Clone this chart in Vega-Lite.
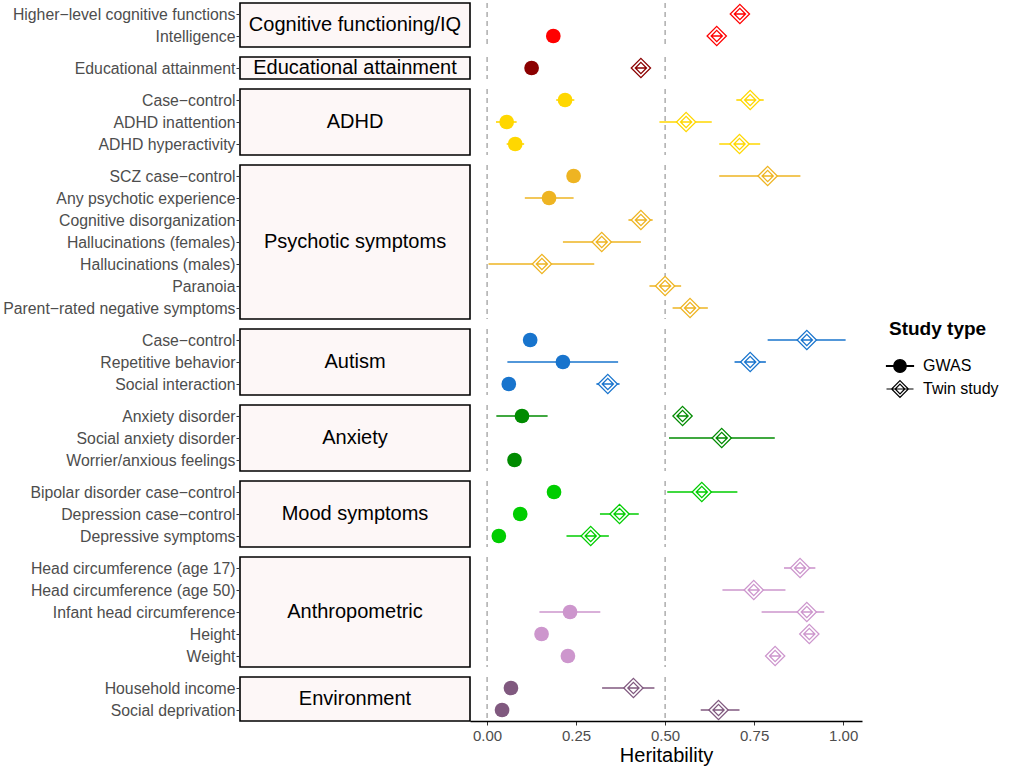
{
  "$schema": "https://vega.github.io/schema/vega-lite/v6.json",
  "padding": {"left": 1, "top": 1, "right": 2, "bottom": 2},
  "autosize": {"type": "pad"},
  "background": "white",
  "config": {
    "font": "Liberation Sans",
    "view": {"stroke": null},
    "axisY": {"grid": false, "domain": false, "ticks": true, "tickSize": 4, "tickColor": "#333333", "tickWidth": 1, "labelFontSize": 15.8, "labelColor": "#4D4D4D", "labelPadding": 1, "labelLimit": 400, "labelFont": "Liberation Sans"},
    "axisX": {"grid": false, "domain": true, "domainColor": "black", "domainWidth": 1.3, "ticks": true, "tickSize": 4, "tickColor": "#333333", "tickWidth": 1, "labelFontSize": 15, "labelColor": "#4D4D4D", "labelPadding": 3, "labelFont": "Liberation Sans", "titleFontSize": 20, "titleColor": "black", "titleFontWeight": "normal", "titleFont": "Liberation Sans", "titlePadding": 2},
    "legend": {"titleFontSize": 19, "titleFontWeight": "bold", "titleColor": "black", "titleFont": "Liberation Sans", "labelFontSize": 16, "labelColor": "black", "labelFont": "Liberation Sans", "symbolSize": 400, "symbolStrokeWidth": 1.2, "symbolStrokeColor": "black", "symbolOpacity": 1, "rowPadding": 3, "titlePadding": 16, "labelOffset": 12, "padding": 0}
  },
  "datasets": {
    "items": [
      {"group": "Cognitive functioning/IQ", "item": "Higher−level cognitive functions", "study": "Twin study", "est": 0.71, "lo": 0.70, "hi": 0.72},
      {"group": "Cognitive functioning/IQ", "item": "Intelligence", "study": "GWAS", "est": 0.186, "lo": null, "hi": null},
      {"group": "Cognitive functioning/IQ", "item": "Intelligence", "study": "Twin study", "est": 0.645, "lo": 0.635, "hi": 0.655},
      {"group": "Educational attainment", "item": "Educational attainment", "study": "GWAS", "est": 0.125, "lo": null, "hi": null},
      {"group": "Educational attainment", "item": "Educational attainment", "study": "Twin study", "est": 0.432, "lo": 0.422, "hi": 0.442},
      {"group": "ADHD", "item": "Case−control", "study": "GWAS", "est": 0.219, "lo": 0.194, "hi": 0.245},
      {"group": "ADHD", "item": "Case−control", "study": "Twin study", "est": 0.739, "lo": 0.70, "hi": 0.777},
      {"group": "ADHD", "item": "ADHD inattention", "study": "GWAS", "est": 0.055, "lo": 0.025, "hi": 0.083},
      {"group": "ADHD", "item": "ADHD inattention", "study": "Twin study", "est": 0.559, "lo": 0.484, "hi": 0.631},
      {"group": "ADHD", "item": "ADHD hyperactivity", "study": "GWAS", "est": 0.079, "lo": 0.055, "hi": 0.104},
      {"group": "ADHD", "item": "ADHD hyperactivity", "study": "Twin study", "est": 0.709, "lo": 0.652, "hi": 0.767},
      {"group": "Psychotic symptoms", "item": "SCZ case−control", "study": "GWAS", "est": 0.243, "lo": null, "hi": null},
      {"group": "Psychotic symptoms", "item": "SCZ case−control", "study": "Twin study", "est": 0.788, "lo": 0.652, "hi": 0.880},
      {"group": "Psychotic symptoms", "item": "Any psychotic experience", "study": "GWAS", "est": 0.174, "lo": 0.106, "hi": 0.243},
      {"group": "Psychotic symptoms", "item": "Cognitive disorganization", "study": "Twin study", "est": 0.432, "lo": 0.397, "hi": 0.465},
      {"group": "Psychotic symptoms", "item": "Hallucinations (females)", "study": "Twin study", "est": 0.322, "lo": 0.213, "hi": 0.432},
      {"group": "Psychotic symptoms", "item": "Hallucinations (males)", "study": "Twin study", "est": 0.154, "lo": 0.004, "hi": 0.301},
      {"group": "Psychotic symptoms", "item": "Paranoia", "study": "Twin study", "est": 0.500, "lo": 0.456, "hi": 0.545},
      {"group": "Psychotic symptoms", "item": "Parent−rated negative symptoms", "study": "Twin study", "est": 0.570, "lo": 0.521, "hi": 0.620},
      {"group": "Autism", "item": "Case−control", "study": "GWAS", "est": 0.121, "lo": null, "hi": null},
      {"group": "Autism", "item": "Case−control", "study": "Twin study", "est": 0.898, "lo": 0.788, "hi": 1.007},
      {"group": "Autism", "item": "Repetitive behavior", "study": "GWAS", "est": 0.213, "lo": 0.057, "hi": 0.368},
      {"group": "Autism", "item": "Repetitive behavior", "study": "Twin study", "est": 0.739, "lo": 0.695, "hi": 0.783},
      {"group": "Autism", "item": "Social interaction", "study": "GWAS", "est": 0.061, "lo": null, "hi": null},
      {"group": "Autism", "item": "Social interaction", "study": "Twin study", "est": 0.339, "lo": 0.307, "hi": 0.372},
      {"group": "Anxiety", "item": "Anxiety disorder", "study": "GWAS", "est": 0.098, "lo": 0.026, "hi": 0.170},
      {"group": "Anxiety", "item": "Anxiety disorder", "study": "Twin study", "est": 0.549, "lo": 0.539, "hi": 0.559},
      {"group": "Anxiety", "item": "Social anxiety disorder", "study": "Twin study", "est": 0.659, "lo": 0.511, "hi": 0.808},
      {"group": "Anxiety", "item": "Worrier/anxious feelings", "study": "GWAS", "est": 0.077, "lo": null, "hi": null},
      {"group": "Mood symptoms", "item": "Bipolar disorder case−control", "study": "GWAS", "est": 0.188, "lo": null, "hi": null},
      {"group": "Mood symptoms", "item": "Bipolar disorder case−control", "study": "Twin study", "est": 0.603, "lo": 0.506, "hi": 0.703},
      {"group": "Mood symptoms", "item": "Depression case−control", "study": "GWAS", "est": 0.093, "lo": null, "hi": null},
      {"group": "Mood symptoms", "item": "Depression case−control", "study": "Twin study", "est": 0.372, "lo": 0.317, "hi": 0.426},
      {"group": "Mood symptoms", "item": "Depressive symptoms", "study": "GWAS", "est": 0.033, "lo": null, "hi": null},
      {"group": "Mood symptoms", "item": "Depressive symptoms", "study": "Twin study", "est": 0.291, "lo": 0.223, "hi": 0.342},
      {"group": "Anthropometric", "item": "Head circumference (age 17)", "study": "Twin study", "est": 0.879, "lo": 0.834, "hi": 0.922},
      {"group": "Anthropometric", "item": "Head circumference (age 50)", "study": "Twin study", "est": 0.749, "lo": 0.661, "hi": 0.838},
      {"group": "Anthropometric", "item": "Infant head circumference", "study": "GWAS", "est": 0.233, "lo": 0.147, "hi": 0.318},
      {"group": "Anthropometric", "item": "Infant head circumference", "study": "Twin study", "est": 0.898, "lo": 0.771, "hi": 0.947},
      {"group": "Anthropometric", "item": "Height", "study": "GWAS", "est": 0.153, "lo": null, "hi": null},
      {"group": "Anthropometric", "item": "Height", "study": "Twin study", "est": 0.905, "lo": 0.895, "hi": 0.915},
      {"group": "Anthropometric", "item": "Weight", "study": "GWAS", "est": 0.227, "lo": null, "hi": null},
      {"group": "Anthropometric", "item": "Weight", "study": "Twin study", "est": 0.809, "lo": 0.799, "hi": 0.819},
      {"group": "Environment", "item": "Household income", "study": "GWAS", "est": 0.067, "lo": null, "hi": null},
      {"group": "Environment", "item": "Household income", "study": "Twin study", "est": 0.411, "lo": 0.323, "hi": 0.470},
      {"group": "Environment", "item": "Social deprivation", "study": "GWAS", "est": 0.042, "lo": null, "hi": null},
      {"group": "Environment", "item": "Social deprivation", "study": "Twin study", "est": 0.650, "lo": 0.600, "hi": 0.709}
    ],
    "refs": [{"v": 0}, {"v": 0.5}]
  },
  "data": {"name": "items"},
  "columns": 2,
  "spacing": {"row": 10, "column": 0},
  "bounds": "flush",
  "align": "each",
  "concat": [
    {"width": 230, "height": 44, "view": {"fill": "#FDF7F7", "stroke": "black", "strokeWidth": 1.6},
     "transform": [{"filter": {"field": "group", "equal": "Cognitive functioning/IQ"}}],
     "layer": [
      {"mark": {"type": "point", "opacity": 0}, "encoding": {"y": {"field": "item", "type": "nominal", "sort": null, "scale": {"type": "point", "padding": 0.5}, "axis": {"title": null}}}},
      {"transform": [{"aggregate": [{"op": "count", "as": "n"}], "groupby": ["group"]}], "mark": {"type": "text", "fontSize": 20, "color": "black"}, "encoding": {"text": {"field": "group", "type": "nominal"}}}
     ]},
    {"width": 392, "height": 44,
     "transform": [{"filter": {"field": "group", "equal": "Cognitive functioning/IQ"}}],
     "layer": [
      {"data": {"name": "refs"}, "mark": {"type": "rule", "strokeDash": [5, 4], "color": "#999999", "strokeWidth": 1.2}, "encoding": {"x": {"field": "v", "type": "quantitative", "scale": {"domain": [-0.048, 1.053], "nice": false, "zero": false}, "axis": null}}},
      {"transform": [{"filter": "isValid(datum.lo)"}], "mark": {"type": "rule", "strokeWidth": 1.6}, "encoding": {"x": {"field": "lo", "type": "quantitative", "axis": null}, "x2": {"field": "hi"}, "y": {"field": "item", "type": "nominal", "sort": null, "scale": {"type": "point", "padding": 0.5}, "axis": null}, "color": {"field": "group", "type": "nominal", "legend": null, "scale": {"domain": ["Cognitive functioning/IQ", "Educational attainment", "ADHD", "Psychotic symptoms", "Autism", "Anxiety", "Mood symptoms", "Anthropometric", "Environment"], "range": ["#FF0000", "#8B0000", "#FFD700", "#EEB422", "#1874CD", "#008B00", "#00CD00", "#CD96CD", "#80597F"]}}}},
      {"mark": {"type": "point", "filled": true, "opacity": 0, "size": 10}, "encoding": {"x": {"field": "est", "type": "quantitative", "axis": null}, "y": {"field": "item", "type": "nominal", "sort": null, "axis": null}, "shape": {"field": "study", "type": "nominal", "title": "Study type", "scale": {"domain": ["GWAS", "Twin study"], "range": ["M0.63,0A0.63,0.63 0 1,1 -0.63,0A0.63,0.63 0 1,1 0.63,0Z M-1.35,-0.04H1.35V0.04H-1.35Z", "M0,-0.84L0.84,0L0,0.84L-0.84,0Z M0,-0.48L0.48,0L0,0.48L-0.48,0Z M-1.35,0H1.35"]}, "legend": {"orient": "none", "legendX": 649, "legendY": 317}}, "fill": {"field": "study", "type": "nominal", "title": "Study type", "scale": {"domain": ["GWAS", "Twin study"], "range": ["black", "white"]}, "legend": {"orient": "none", "legendX": 649, "legendY": 317}}, "stroke": {"field": "study", "type": "nominal", "title": "Study type", "scale": {"domain": ["GWAS", "Twin study"], "range": ["black", "black"]}, "legend": {"orient": "none", "legendX": 649, "legendY": 317}}}},
      {"transform": [{"filter": "datum.study === 'GWAS'"}], "mark": {"type": "point", "filled": true, "size": 216, "opacity": 1, "shape": "circle"}, "encoding": {"x": {"field": "est", "type": "quantitative", "axis": null}, "y": {"field": "item", "type": "nominal", "sort": null, "axis": null}, "color": {"field": "group", "type": "nominal", "legend": null}}},
      {"transform": [{"filter": "datum.study === 'Twin study'"}], "mark": {"type": "point", "filled": false, "fill": "white", "strokeWidth": 1.3, "size": 372, "opacity": 1, "shape": "M0,-1L1,0L0,1L-1,0Z M0,-0.58L0.58,0L0,0.58L-0.58,0Z M-0.58,0L0.58,0"}, "encoding": {"x": {"field": "est", "type": "quantitative", "axis": null}, "y": {"field": "item", "type": "nominal", "sort": null, "axis": null}, "color": {"field": "group", "type": "nominal", "legend": null}}}
     ]},

    {"width": 230, "height": 22, "view": {"fill": "#FDF7F7", "stroke": "black", "strokeWidth": 1.6},
     "transform": [{"filter": {"field": "group", "equal": "Educational attainment"}}],
     "layer": [
      {"mark": {"type": "point", "opacity": 0}, "encoding": {"y": {"field": "item", "type": "nominal", "sort": null, "scale": {"type": "point", "padding": 0.5}, "axis": {"title": null}}}},
      {"transform": [{"aggregate": [{"op": "count", "as": "n"}], "groupby": ["group"]}], "mark": {"type": "text", "fontSize": 20, "color": "black"}, "encoding": {"text": {"field": "group", "type": "nominal"}}}
     ]},
    {"width": 392, "height": 22,
     "transform": [{"filter": {"field": "group", "equal": "Educational attainment"}}],
     "layer": [
      {"data": {"name": "refs"}, "mark": {"type": "rule", "strokeDash": [5, 4], "color": "#999999", "strokeWidth": 1.2}, "encoding": {"x": {"field": "v", "type": "quantitative", "scale": {"domain": [-0.048, 1.053], "nice": false, "zero": false}, "axis": null}}},
      {"transform": [{"filter": "isValid(datum.lo)"}], "mark": {"type": "rule", "strokeWidth": 1.6}, "encoding": {"x": {"field": "lo", "type": "quantitative", "axis": null}, "x2": {"field": "hi"}, "y": {"field": "item", "type": "nominal", "sort": null, "scale": {"type": "point", "padding": 0.5}, "axis": null}, "color": {"field": "group", "type": "nominal", "legend": null}}},
      {"transform": [{"filter": "datum.study === 'GWAS'"}], "mark": {"type": "point", "filled": true, "size": 216, "opacity": 1, "shape": "circle"}, "encoding": {"x": {"field": "est", "type": "quantitative", "axis": null}, "y": {"field": "item", "type": "nominal", "sort": null, "axis": null}, "color": {"field": "group", "type": "nominal", "legend": null}}},
      {"transform": [{"filter": "datum.study === 'Twin study'"}], "mark": {"type": "point", "filled": false, "fill": "white", "strokeWidth": 1.3, "size": 372, "opacity": 1, "shape": "M0,-1L1,0L0,1L-1,0Z M0,-0.58L0.58,0L0,0.58L-0.58,0Z M-0.58,0L0.58,0"}, "encoding": {"x": {"field": "est", "type": "quantitative", "axis": null}, "y": {"field": "item", "type": "nominal", "sort": null, "axis": null}, "color": {"field": "group", "type": "nominal", "legend": null}}}
     ]},

    {"width": 230, "height": 66, "view": {"fill": "#FDF7F7", "stroke": "black", "strokeWidth": 1.6},
     "transform": [{"filter": {"field": "group", "equal": "ADHD"}}],
     "layer": [
      {"mark": {"type": "point", "opacity": 0}, "encoding": {"y": {"field": "item", "type": "nominal", "sort": null, "scale": {"type": "point", "padding": 0.5}, "axis": {"title": null}}}},
      {"transform": [{"aggregate": [{"op": "count", "as": "n"}], "groupby": ["group"]}], "mark": {"type": "text", "fontSize": 20, "color": "black"}, "encoding": {"text": {"field": "group", "type": "nominal"}}}
     ]},
    {"width": 392, "height": 66,
     "transform": [{"filter": {"field": "group", "equal": "ADHD"}}],
     "layer": [
      {"data": {"name": "refs"}, "mark": {"type": "rule", "strokeDash": [5, 4], "color": "#999999", "strokeWidth": 1.2}, "encoding": {"x": {"field": "v", "type": "quantitative", "scale": {"domain": [-0.048, 1.053], "nice": false, "zero": false}, "axis": null}}},
      {"transform": [{"filter": "isValid(datum.lo)"}], "mark": {"type": "rule", "strokeWidth": 1.6}, "encoding": {"x": {"field": "lo", "type": "quantitative", "axis": null}, "x2": {"field": "hi"}, "y": {"field": "item", "type": "nominal", "sort": null, "scale": {"type": "point", "padding": 0.5}, "axis": null}, "color": {"field": "group", "type": "nominal", "legend": null}}},
      {"transform": [{"filter": "datum.study === 'GWAS'"}], "mark": {"type": "point", "filled": true, "size": 216, "opacity": 1, "shape": "circle"}, "encoding": {"x": {"field": "est", "type": "quantitative", "axis": null}, "y": {"field": "item", "type": "nominal", "sort": null, "axis": null}, "color": {"field": "group", "type": "nominal", "legend": null}}},
      {"transform": [{"filter": "datum.study === 'Twin study'"}], "mark": {"type": "point", "filled": false, "fill": "white", "strokeWidth": 1.3, "size": 372, "opacity": 1, "shape": "M0,-1L1,0L0,1L-1,0Z M0,-0.58L0.58,0L0,0.58L-0.58,0Z M-0.58,0L0.58,0"}, "encoding": {"x": {"field": "est", "type": "quantitative", "axis": null}, "y": {"field": "item", "type": "nominal", "sort": null, "axis": null}, "color": {"field": "group", "type": "nominal", "legend": null}}}
     ]},

    {"width": 230, "height": 154, "view": {"fill": "#FDF7F7", "stroke": "black", "strokeWidth": 1.6},
     "transform": [{"filter": {"field": "group", "equal": "Psychotic symptoms"}}],
     "layer": [
      {"mark": {"type": "point", "opacity": 0}, "encoding": {"y": {"field": "item", "type": "nominal", "sort": null, "scale": {"type": "point", "padding": 0.5}, "axis": {"title": null}}}},
      {"transform": [{"aggregate": [{"op": "count", "as": "n"}], "groupby": ["group"]}], "mark": {"type": "text", "fontSize": 20, "color": "black"}, "encoding": {"text": {"field": "group", "type": "nominal"}}}
     ]},
    {"width": 392, "height": 154,
     "transform": [{"filter": {"field": "group", "equal": "Psychotic symptoms"}}],
     "layer": [
      {"data": {"name": "refs"}, "mark": {"type": "rule", "strokeDash": [5, 4], "color": "#999999", "strokeWidth": 1.2}, "encoding": {"x": {"field": "v", "type": "quantitative", "scale": {"domain": [-0.048, 1.053], "nice": false, "zero": false}, "axis": null}}},
      {"transform": [{"filter": "isValid(datum.lo)"}], "mark": {"type": "rule", "strokeWidth": 1.6}, "encoding": {"x": {"field": "lo", "type": "quantitative", "axis": null}, "x2": {"field": "hi"}, "y": {"field": "item", "type": "nominal", "sort": null, "scale": {"type": "point", "padding": 0.5}, "axis": null}, "color": {"field": "group", "type": "nominal", "legend": null}}},
      {"transform": [{"filter": "datum.study === 'GWAS'"}], "mark": {"type": "point", "filled": true, "size": 216, "opacity": 1, "shape": "circle"}, "encoding": {"x": {"field": "est", "type": "quantitative", "axis": null}, "y": {"field": "item", "type": "nominal", "sort": null, "axis": null}, "color": {"field": "group", "type": "nominal", "legend": null}}},
      {"transform": [{"filter": "datum.study === 'Twin study'"}], "mark": {"type": "point", "filled": false, "fill": "white", "strokeWidth": 1.3, "size": 372, "opacity": 1, "shape": "M0,-1L1,0L0,1L-1,0Z M0,-0.58L0.58,0L0,0.58L-0.58,0Z M-0.58,0L0.58,0"}, "encoding": {"x": {"field": "est", "type": "quantitative", "axis": null}, "y": {"field": "item", "type": "nominal", "sort": null, "axis": null}, "color": {"field": "group", "type": "nominal", "legend": null}}}
     ]},

    {"width": 230, "height": 66, "view": {"fill": "#FDF7F7", "stroke": "black", "strokeWidth": 1.6},
     "transform": [{"filter": {"field": "group", "equal": "Autism"}}],
     "layer": [
      {"mark": {"type": "point", "opacity": 0}, "encoding": {"y": {"field": "item", "type": "nominal", "sort": null, "scale": {"type": "point", "padding": 0.5}, "axis": {"title": null}}}},
      {"transform": [{"aggregate": [{"op": "count", "as": "n"}], "groupby": ["group"]}], "mark": {"type": "text", "fontSize": 20, "color": "black"}, "encoding": {"text": {"field": "group", "type": "nominal"}}}
     ]},
    {"width": 392, "height": 66,
     "transform": [{"filter": {"field": "group", "equal": "Autism"}}],
     "layer": [
      {"data": {"name": "refs"}, "mark": {"type": "rule", "strokeDash": [5, 4], "color": "#999999", "strokeWidth": 1.2}, "encoding": {"x": {"field": "v", "type": "quantitative", "scale": {"domain": [-0.048, 1.053], "nice": false, "zero": false}, "axis": null}}},
      {"transform": [{"filter": "isValid(datum.lo)"}], "mark": {"type": "rule", "strokeWidth": 1.6}, "encoding": {"x": {"field": "lo", "type": "quantitative", "axis": null}, "x2": {"field": "hi"}, "y": {"field": "item", "type": "nominal", "sort": null, "scale": {"type": "point", "padding": 0.5}, "axis": null}, "color": {"field": "group", "type": "nominal", "legend": null}}},
      {"transform": [{"filter": "datum.study === 'GWAS'"}], "mark": {"type": "point", "filled": true, "size": 216, "opacity": 1, "shape": "circle"}, "encoding": {"x": {"field": "est", "type": "quantitative", "axis": null}, "y": {"field": "item", "type": "nominal", "sort": null, "axis": null}, "color": {"field": "group", "type": "nominal", "legend": null}}},
      {"transform": [{"filter": "datum.study === 'Twin study'"}], "mark": {"type": "point", "filled": false, "fill": "white", "strokeWidth": 1.3, "size": 372, "opacity": 1, "shape": "M0,-1L1,0L0,1L-1,0Z M0,-0.58L0.58,0L0,0.58L-0.58,0Z M-0.58,0L0.58,0"}, "encoding": {"x": {"field": "est", "type": "quantitative", "axis": null}, "y": {"field": "item", "type": "nominal", "sort": null, "axis": null}, "color": {"field": "group", "type": "nominal", "legend": null}}}
     ]},

    {"width": 230, "height": 66, "view": {"fill": "#FDF7F7", "stroke": "black", "strokeWidth": 1.6},
     "transform": [{"filter": {"field": "group", "equal": "Anxiety"}}],
     "layer": [
      {"mark": {"type": "point", "opacity": 0}, "encoding": {"y": {"field": "item", "type": "nominal", "sort": null, "scale": {"type": "point", "padding": 0.5}, "axis": {"title": null}}}},
      {"transform": [{"aggregate": [{"op": "count", "as": "n"}], "groupby": ["group"]}], "mark": {"type": "text", "fontSize": 20, "color": "black"}, "encoding": {"text": {"field": "group", "type": "nominal"}}}
     ]},
    {"width": 392, "height": 66,
     "transform": [{"filter": {"field": "group", "equal": "Anxiety"}}],
     "layer": [
      {"data": {"name": "refs"}, "mark": {"type": "rule", "strokeDash": [5, 4], "color": "#999999", "strokeWidth": 1.2}, "encoding": {"x": {"field": "v", "type": "quantitative", "scale": {"domain": [-0.048, 1.053], "nice": false, "zero": false}, "axis": null}}},
      {"transform": [{"filter": "isValid(datum.lo)"}], "mark": {"type": "rule", "strokeWidth": 1.6}, "encoding": {"x": {"field": "lo", "type": "quantitative", "axis": null}, "x2": {"field": "hi"}, "y": {"field": "item", "type": "nominal", "sort": null, "scale": {"type": "point", "padding": 0.5}, "axis": null}, "color": {"field": "group", "type": "nominal", "legend": null}}},
      {"transform": [{"filter": "datum.study === 'GWAS'"}], "mark": {"type": "point", "filled": true, "size": 216, "opacity": 1, "shape": "circle"}, "encoding": {"x": {"field": "est", "type": "quantitative", "axis": null}, "y": {"field": "item", "type": "nominal", "sort": null, "axis": null}, "color": {"field": "group", "type": "nominal", "legend": null}}},
      {"transform": [{"filter": "datum.study === 'Twin study'"}], "mark": {"type": "point", "filled": false, "fill": "white", "strokeWidth": 1.3, "size": 372, "opacity": 1, "shape": "M0,-1L1,0L0,1L-1,0Z M0,-0.58L0.58,0L0,0.58L-0.58,0Z M-0.58,0L0.58,0"}, "encoding": {"x": {"field": "est", "type": "quantitative", "axis": null}, "y": {"field": "item", "type": "nominal", "sort": null, "axis": null}, "color": {"field": "group", "type": "nominal", "legend": null}}}
     ]},

    {"width": 230, "height": 66, "view": {"fill": "#FDF7F7", "stroke": "black", "strokeWidth": 1.6},
     "transform": [{"filter": {"field": "group", "equal": "Mood symptoms"}}],
     "layer": [
      {"mark": {"type": "point", "opacity": 0}, "encoding": {"y": {"field": "item", "type": "nominal", "sort": null, "scale": {"type": "point", "padding": 0.5}, "axis": {"title": null}}}},
      {"transform": [{"aggregate": [{"op": "count", "as": "n"}], "groupby": ["group"]}], "mark": {"type": "text", "fontSize": 20, "color": "black"}, "encoding": {"text": {"field": "group", "type": "nominal"}}}
     ]},
    {"width": 392, "height": 66,
     "transform": [{"filter": {"field": "group", "equal": "Mood symptoms"}}],
     "layer": [
      {"data": {"name": "refs"}, "mark": {"type": "rule", "strokeDash": [5, 4], "color": "#999999", "strokeWidth": 1.2}, "encoding": {"x": {"field": "v", "type": "quantitative", "scale": {"domain": [-0.048, 1.053], "nice": false, "zero": false}, "axis": null}}},
      {"transform": [{"filter": "isValid(datum.lo)"}], "mark": {"type": "rule", "strokeWidth": 1.6}, "encoding": {"x": {"field": "lo", "type": "quantitative", "axis": null}, "x2": {"field": "hi"}, "y": {"field": "item", "type": "nominal", "sort": null, "scale": {"type": "point", "padding": 0.5}, "axis": null}, "color": {"field": "group", "type": "nominal", "legend": null}}},
      {"transform": [{"filter": "datum.study === 'GWAS'"}], "mark": {"type": "point", "filled": true, "size": 216, "opacity": 1, "shape": "circle"}, "encoding": {"x": {"field": "est", "type": "quantitative", "axis": null}, "y": {"field": "item", "type": "nominal", "sort": null, "axis": null}, "color": {"field": "group", "type": "nominal", "legend": null}}},
      {"transform": [{"filter": "datum.study === 'Twin study'"}], "mark": {"type": "point", "filled": false, "fill": "white", "strokeWidth": 1.3, "size": 372, "opacity": 1, "shape": "M0,-1L1,0L0,1L-1,0Z M0,-0.58L0.58,0L0,0.58L-0.58,0Z M-0.58,0L0.58,0"}, "encoding": {"x": {"field": "est", "type": "quantitative", "axis": null}, "y": {"field": "item", "type": "nominal", "sort": null, "axis": null}, "color": {"field": "group", "type": "nominal", "legend": null}}}
     ]},

    {"width": 230, "height": 110, "view": {"fill": "#FDF7F7", "stroke": "black", "strokeWidth": 1.6},
     "transform": [{"filter": {"field": "group", "equal": "Anthropometric"}}],
     "layer": [
      {"mark": {"type": "point", "opacity": 0}, "encoding": {"y": {"field": "item", "type": "nominal", "sort": null, "scale": {"type": "point", "padding": 0.5}, "axis": {"title": null}}}},
      {"transform": [{"aggregate": [{"op": "count", "as": "n"}], "groupby": ["group"]}], "mark": {"type": "text", "fontSize": 20, "color": "black"}, "encoding": {"text": {"field": "group", "type": "nominal"}}}
     ]},
    {"width": 392, "height": 110,
     "transform": [{"filter": {"field": "group", "equal": "Anthropometric"}}],
     "layer": [
      {"data": {"name": "refs"}, "mark": {"type": "rule", "strokeDash": [5, 4], "color": "#999999", "strokeWidth": 1.2}, "encoding": {"x": {"field": "v", "type": "quantitative", "scale": {"domain": [-0.048, 1.053], "nice": false, "zero": false}, "axis": null}}},
      {"transform": [{"filter": "isValid(datum.lo)"}], "mark": {"type": "rule", "strokeWidth": 1.6}, "encoding": {"x": {"field": "lo", "type": "quantitative", "axis": null}, "x2": {"field": "hi"}, "y": {"field": "item", "type": "nominal", "sort": null, "scale": {"type": "point", "padding": 0.5}, "axis": null}, "color": {"field": "group", "type": "nominal", "legend": null}}},
      {"transform": [{"filter": "datum.study === 'GWAS'"}], "mark": {"type": "point", "filled": true, "size": 216, "opacity": 1, "shape": "circle"}, "encoding": {"x": {"field": "est", "type": "quantitative", "axis": null}, "y": {"field": "item", "type": "nominal", "sort": null, "axis": null}, "color": {"field": "group", "type": "nominal", "legend": null}}},
      {"transform": [{"filter": "datum.study === 'Twin study'"}], "mark": {"type": "point", "filled": false, "fill": "white", "strokeWidth": 1.3, "size": 372, "opacity": 1, "shape": "M0,-1L1,0L0,1L-1,0Z M0,-0.58L0.58,0L0,0.58L-0.58,0Z M-0.58,0L0.58,0"}, "encoding": {"x": {"field": "est", "type": "quantitative", "axis": null}, "y": {"field": "item", "type": "nominal", "sort": null, "axis": null}, "color": {"field": "group", "type": "nominal", "legend": null}}}
     ]},

    {"width": 230, "height": 44, "view": {"fill": "#FDF7F7", "stroke": "black", "strokeWidth": 1.6},
     "transform": [{"filter": {"field": "group", "equal": "Environment"}}],
     "layer": [
      {"mark": {"type": "point", "opacity": 0}, "encoding": {"y": {"field": "item", "type": "nominal", "sort": null, "scale": {"type": "point", "padding": 0.5}, "axis": {"title": null}}}},
      {"transform": [{"aggregate": [{"op": "count", "as": "n"}], "groupby": ["group"]}], "mark": {"type": "text", "fontSize": 20, "color": "black"}, "encoding": {"text": {"field": "group", "type": "nominal"}}}
     ]},
    {"width": 392, "height": 44,
     "transform": [{"filter": {"field": "group", "equal": "Environment"}}],
     "layer": [
      {"data": {"name": "refs"}, "mark": {"type": "rule", "strokeDash": [5, 4], "color": "#999999", "strokeWidth": 1.2}, "encoding": {"x": {"field": "v", "type": "quantitative", "scale": {"domain": [-0.048, 1.053], "nice": false, "zero": false}, "axis": {"title": "Heritability", "values": [0, 0.25, 0.5, 0.75, 1], "format": ".2f"}}}},
      {"transform": [{"filter": "isValid(datum.lo)"}], "mark": {"type": "rule", "strokeWidth": 1.6}, "encoding": {"x": {"field": "lo", "type": "quantitative", "axis": {"title": "Heritability", "values": [0, 0.25, 0.5, 0.75, 1], "format": ".2f"}}, "x2": {"field": "hi"}, "y": {"field": "item", "type": "nominal", "sort": null, "scale": {"type": "point", "padding": 0.5}, "axis": null}, "color": {"field": "group", "type": "nominal", "legend": null}}},
      {"transform": [{"filter": "datum.study === 'GWAS'"}], "mark": {"type": "point", "filled": true, "size": 216, "opacity": 1, "shape": "circle"}, "encoding": {"x": {"field": "est", "type": "quantitative", "axis": {"title": "Heritability", "values": [0, 0.25, 0.5, 0.75, 1], "format": ".2f"}}, "y": {"field": "item", "type": "nominal", "sort": null, "axis": null}, "color": {"field": "group", "type": "nominal", "legend": null}}},
      {"transform": [{"filter": "datum.study === 'Twin study'"}], "mark": {"type": "point", "filled": false, "fill": "white", "strokeWidth": 1.3, "size": 372, "opacity": 1, "shape": "M0,-1L1,0L0,1L-1,0Z M0,-0.58L0.58,0L0,0.58L-0.58,0Z M-0.58,0L0.58,0"}, "encoding": {"x": {"field": "est", "type": "quantitative", "axis": {"title": "Heritability", "values": [0, 0.25, 0.5, 0.75, 1], "format": ".2f"}}, "y": {"field": "item", "type": "nominal", "sort": null, "axis": null}, "color": {"field": "group", "type": "nominal", "legend": null}}}
     ]}
  ]
}
